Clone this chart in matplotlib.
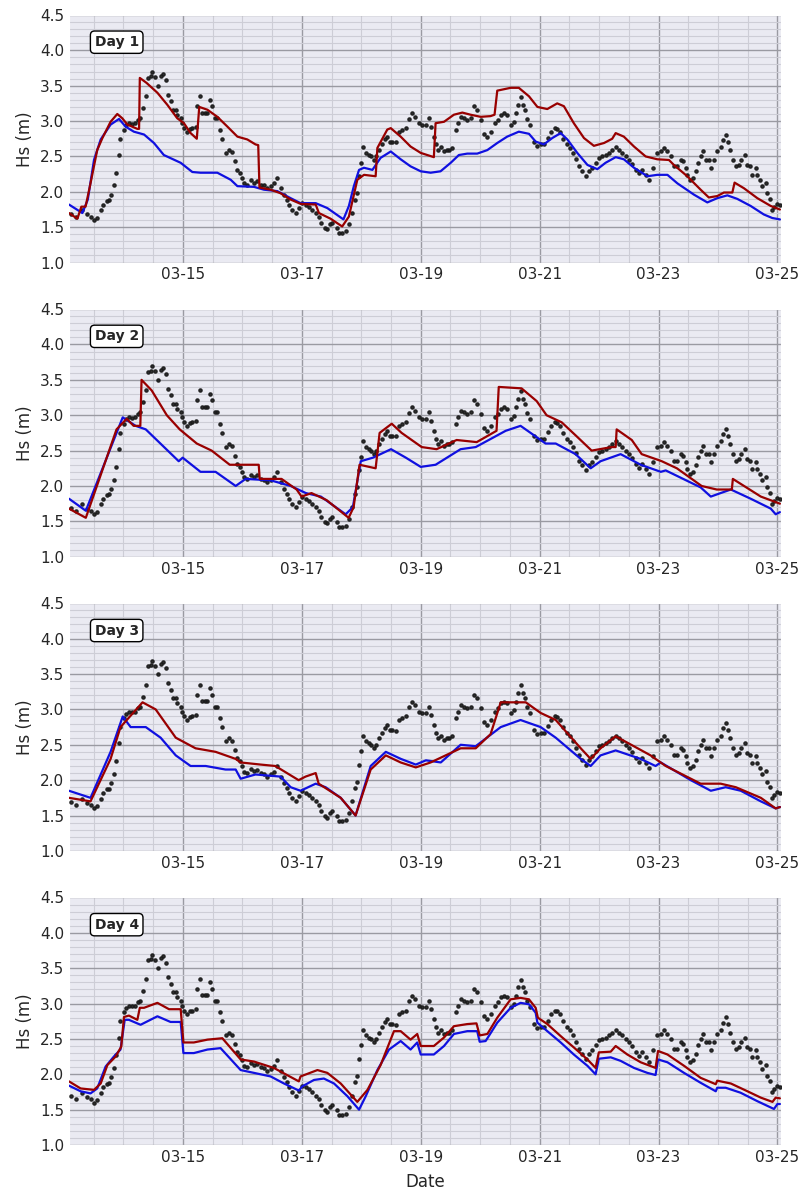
import matplotlib
matplotlib.use("Agg")
import matplotlib.pyplot as plt
import matplotlib.dates as mdates
import numpy as np
import pandas as pd
import seaborn as sns

# hours since 2023-03-13 00:00 and significant wave height (m)
obs = [
    (2.7, 1.69), (4.7, 1.65), (7.4, 1.74), (9.4, 1.68), (10.7, 1.65), (12.1, 1.60), (13.2, 1.63),
    (14.8, 1.74), (15.9, 1.82), (17.2, 1.87), (18.1, 1.88), (19.1, 1.96), (20.1, 2.09), (20.8, 2.27),
    (22.2, 2.52), (22.8, 2.75), (24.2, 2.88), (25.2, 2.94), (26.2, 2.97), (27.6, 2.96), (28.5, 2.97),
    (29.8, 3.02), (30.6, 3.04), (31.8, 3.18), (32.9, 3.35), (33.9, 3.61), (35.0, 3.63), (35.6, 3.69),
    (36.7, 3.62), (37.9, 3.50), (39.0, 3.64), (40.1, 3.67), (41.0, 3.58), (41.9, 3.37), (43.0, 3.28),
    (44.0, 3.16), (45.1, 3.16), (45.7, 3.09), (47.1, 3.04), (47.8, 2.97), (48.4, 2.90), (49.5, 2.85),
    (50.7, 2.89), (51.8, 2.90), (53.1, 2.92), (53.8, 3.21), (54.9, 3.35), (55.8, 3.12), (56.8, 3.12),
    (57.9, 3.12), (58.9, 3.30), (59.9, 3.21), (60.8, 3.04), (61.9, 3.04), (62.9, 2.88), (63.9, 2.75),
    (65.2, 2.55), (66.6, 2.59), (67.7, 2.56), (68.9, 2.43), (70.0, 2.31), (70.9, 2.27), (72.0, 2.20),
    (72.6, 2.12), (74.0, 2.10), (75.3, 2.16), (76.7, 2.13), (78.0, 2.15), (79.4, 2.10), (80.7, 2.09),
    (82.1, 2.05), (83.4, 2.08), (84.7, 2.12), (85.8, 2.20), (87.7, 2.05), (88.8, 1.96), (89.9, 1.89),
    (90.8, 1.82), (92.2, 1.75), (93.5, 1.70), (94.8, 1.77), (96.2, 1.84), (97.5, 1.82), (98.9, 1.79),
    (100.2, 1.75), (101.6, 1.70), (102.9, 1.65), (103.9, 1.56), (105.2, 1.49), (106.3, 1.47),
    (107.3, 1.54), (108.3, 1.56), (110.0, 1.49), (111.0, 1.42), (112.3, 1.42), (113.7, 1.44),
    (115.0, 1.54), (116.4, 1.70), (117.3, 1.89), (118.1, 1.98), (119.1, 2.22), (120.0, 2.41),
    (120.8, 2.63), (121.8, 2.55), (123.1, 2.52), (124.1, 2.50), (125.1, 2.45), (126.1, 2.50),
    (127.1, 2.59), (128.5, 2.67), (129.4, 2.74), (130.5, 2.78), (131.6, 2.71), (132.5, 2.71),
    (133.9, 2.70), (135.2, 2.85), (136.6, 2.88), (137.9, 2.90), (139.2, 3.03), (140.6, 3.11),
    (141.5, 3.06), (143.3, 2.97), (144.6, 2.95), (146.0, 2.95), (147.3, 3.04), (148.2, 2.92),
    (149.3, 2.78), (150.0, 2.67), (150.9, 2.59), (152.3, 2.63), (153.4, 2.57), (154.7, 2.59),
    (155.6, 2.59), (156.8, 2.62), (158.1, 2.88), (159.0, 2.97), (160.4, 3.06), (161.5, 3.04),
    (162.8, 3.02), (164.1, 3.04), (165.5, 3.21), (166.8, 3.16), (168.2, 3.02), (169.5, 2.82),
    (170.9, 2.78), (172.2, 2.85), (173.8, 2.97), (175.2, 3.02), (176.5, 3.09), (177.6, 3.11),
    (179.0, 3.09), (180.3, 2.95), (181.6, 2.99), (182.3, 3.11), (183.2, 3.23), (184.3, 3.34),
    (185.4, 3.23), (186.0, 3.16), (187.0, 3.03), (188.1, 2.95), (189.7, 2.71), (191.1, 2.65),
    (192.4, 2.67), (193.7, 2.67), (195.4, 2.76), (196.7, 2.85), (198.1, 2.90), (199.1, 2.89),
    (200.2, 2.85), (201.6, 2.75), (202.9, 2.67), (204.2, 2.62), (205.6, 2.55), (206.5, 2.46),
    (207.9, 2.36), (209.2, 2.29), (210.6, 2.22), (211.9, 2.29), (213.3, 2.34), (214.6, 2.41),
    (215.9, 2.48), (217.3, 2.50), (218.6, 2.52), (220.0, 2.55), (221.3, 2.59), (222.7, 2.63),
    (224.0, 2.59), (225.4, 2.55), (226.7, 2.50), (228.1, 2.45), (229.4, 2.40), (230.8, 2.31),
    (232.1, 2.26), (233.5, 2.31), (234.8, 2.24), (236.1, 2.17), (237.9, 2.34), (239.5, 2.55),
    (240.9, 2.57), (242.2, 2.62), (243.3, 2.57), (244.9, 2.50), (246.2, 2.36), (247.6, 2.36),
    (248.9, 2.45), (250.0, 2.43), (250.9, 2.34), (251.6, 2.24), (252.9, 2.17), (254.0, 2.20),
    (255.0, 2.29), (255.9, 2.41), (257.0, 2.50), (258.1, 2.57), (259.0, 2.45), (260.3, 2.45),
    (261.0, 2.34), (262.4, 2.45), (263.7, 2.57), (265.1, 2.63), (266.2, 2.73), (267.2, 2.81),
    (268.0, 2.71), (268.8, 2.59), (270.2, 2.45), (271.1, 2.36), (272.5, 2.38), (273.4, 2.45),
    (274.8, 2.52), (275.9, 2.38), (276.9, 2.36), (277.9, 2.24), (279.2, 2.34), (279.9, 2.24),
    (280.9, 2.17), (281.9, 2.08), (283.2, 2.13), (283.9, 1.98), (284.8, 1.90), (285.9, 1.75),
    (286.8, 1.79), (287.9, 1.83), (288.9, 1.82),
]

day1_blue = [
    (2.0, 1.82), (7.4, 1.70), (9.6, 1.89), (12.1, 2.45), (14.8, 2.74), (18.8, 2.95), (22.2, 3.03),
    (24.9, 2.92), (28.2, 2.85), (32.3, 2.81), (36.3, 2.69), (40.3, 2.52), (47.1, 2.41), (51.8, 2.28),
    (55.1, 2.27), (61.9, 2.27), (67.3, 2.17), (70.0, 2.08), (76.7, 2.07), (80.7, 2.03), (86.1, 2.01),
    (91.5, 1.91), (95.5, 1.84), (101.6, 1.84), (106.3, 1.77), (112.8, 1.61), (115.0, 1.80),
    (117.0, 2.08), (119.1, 2.31), (121.1, 2.34), (124.5, 2.31), (127.8, 2.48), (131.9, 2.57),
    (135.9, 2.46), (139.9, 2.36), (144.0, 2.29), (148.0, 2.27), (152.0, 2.29), (156.1, 2.41),
    (159.4, 2.52), (162.8, 2.54), (166.8, 2.54), (170.9, 2.59), (174.9, 2.69), (178.9, 2.78),
    (183.6, 2.85), (187.7, 2.82), (190.4, 2.71), (193.7, 2.67), (197.1, 2.76), (200.5, 2.83),
    (203.2, 2.74), (207.2, 2.55), (211.3, 2.38), (215.3, 2.32), (218.6, 2.41), (222.7, 2.49),
    (226.0, 2.46), (230.1, 2.34), (235.5, 2.22), (239.5, 2.24), (243.6, 2.24), (247.6, 2.12),
    (254.3, 1.96), (259.7, 1.85), (263.7, 1.91), (267.8, 1.95), (271.8, 1.90), (277.2, 1.80),
    (282.5, 1.68), (285.9, 1.63), (289.0, 1.61),
]
day1_red = [
    (2.0, 1.70), (5.4, 1.62), (7.0, 1.79), (8.7, 1.79), (10.7, 2.12), (13.4, 2.59), (15.5, 2.76),
    (18.8, 2.99), (21.5, 3.10), (23.5, 3.04), (25.6, 2.95), (29.6, 2.89), (30.3, 2.89), (30.6, 3.61),
    (33.3, 3.54), (37.7, 3.40), (41.7, 3.23), (45.7, 3.04), (48.4, 2.97), (51.1, 2.83), (53.6, 2.75),
    (54.6, 3.20), (57.9, 3.16), (61.9, 3.06), (66.0, 2.92), (70.0, 2.78), (74.0, 2.74), (77.3, 2.67),
    (78.4, 2.66), (78.9, 2.06), (83.4, 2.03), (87.4, 1.98), (91.5, 1.89), (95.5, 1.83), (101.6, 1.82),
    (102.9, 1.70), (107.6, 1.62), (112.3, 1.51), (115.0, 1.65), (118.4, 2.17), (121.1, 2.24),
    (125.8, 2.22), (126.5, 2.62), (130.5, 2.88), (131.9, 2.90), (135.9, 2.78), (139.9, 2.64),
    (144.0, 2.55), (149.3, 2.49), (150.0, 2.97), (153.4, 2.99), (157.4, 3.09), (160.8, 3.12),
    (164.1, 3.09), (168.2, 3.06), (172.2, 3.07), (173.8, 3.09), (174.9, 3.43), (180.3, 3.47),
    (183.6, 3.47), (187.7, 3.35), (191.1, 3.20), (195.1, 3.17), (199.1, 3.25), (201.8, 3.21),
    (205.8, 2.97), (209.9, 2.76), (213.9, 2.65), (218.0, 2.69), (221.3, 2.75), (222.7, 2.83),
    (226.0, 2.78), (230.1, 2.64), (234.8, 2.50), (239.5, 2.46), (244.2, 2.45), (246.2, 2.38),
    (251.6, 2.22), (257.0, 2.03), (260.3, 1.92), (263.7, 1.94), (266.4, 1.99), (269.8, 1.99),
    (270.7, 2.13), (274.5, 2.05), (279.9, 1.91), (285.3, 1.80), (289.0, 1.75),
]

day2_blue = [
    (2.0, 1.82), (8.8, 1.65), (23.7, 2.97), (28.9, 2.85), (33.0, 2.80), (46.3, 2.35), (47.9, 2.40),
    (55.1, 2.20), (61.2, 2.20), (69.3, 2.00), (73.3, 2.10), (83.4, 2.08), (91.5, 2.00), (97.6, 1.90),
    (103.7, 1.85), (113.7, 1.60), (116.6, 1.70), (119.8, 2.35), (124.7, 2.40), (132.0, 2.52),
    (138.0, 2.40), (144.0, 2.27), (150.0, 2.30), (160.1, 2.52), (166.2, 2.55), (178.3, 2.78),
    (184.3, 2.85), (190.4, 2.70), (194.4, 2.60), (198.5, 2.60), (206.5, 2.45), (212.6, 2.25),
    (216.6, 2.35), (224.7, 2.45), (232.8, 2.30), (240.9, 2.20), (242.9, 2.22), (257.0, 1.98),
    (261.1, 1.85), (265.1, 1.90), (269.2, 1.95), (277.2, 1.82), (285.3, 1.68), (287.3, 1.60),
    (289.0, 1.63),
]
day2_red = [
    (2.0, 1.68), (8.8, 1.55), (21.2, 2.80), (25.3, 2.95), (28.1, 2.85), (30.8, 2.85), (31.3, 3.50),
    (35.4, 3.35), (41.5, 3.00), (46.7, 2.80), (53.6, 2.60), (59.6, 2.50), (66.9, 2.30), (78.6, 2.30),
    (79.0, 2.10), (87.8, 2.10), (93.9, 1.95), (95.9, 1.85), (99.9, 1.90), (106.0, 1.80),
    (114.9, 1.55), (116.9, 1.70), (119.3, 2.30), (125.8, 2.25), (127.4, 2.75), (132.3, 2.88),
    (136.3, 2.75), (144.4, 2.55), (150.4, 2.52), (158.5, 2.65), (166.6, 2.62), (174.6, 2.78),
    (175.5, 3.40), (184.7, 3.38), (190.8, 3.20), (194.8, 3.00), (200.9, 2.90), (207.0, 2.70),
    (213.0, 2.50), (221.1, 2.55), (222.7, 2.55), (223.1, 2.80), (229.2, 2.65), (233.2, 2.45),
    (241.3, 2.35), (247.4, 2.25), (257.4, 2.00), (263.5, 1.95), (269.6, 1.95), (270.0, 2.10),
    (281.3, 1.85), (289.0, 1.75),
]

day3_blue = [
    (2.0, 1.85), (10.7, 1.75), (18.8, 2.40), (23.7, 2.90), (26.9, 2.75), (33.0, 2.75), (39.0, 2.60),
    (45.1, 2.35), (51.1, 2.20), (57.2, 2.20), (65.2, 2.15), (69.3, 2.15), (71.3, 2.02), (77.3, 2.08),
    (87.4, 2.05), (91.5, 1.90), (95.5, 1.85), (101.6, 1.95), (105.6, 1.90), (111.7, 1.75),
    (117.7, 1.50), (123.8, 2.20), (129.9, 2.40), (136.0, 2.30), (142.0, 2.22), (146.1, 2.28),
    (152.1, 2.25), (160.1, 2.50), (166.2, 2.48), (176.3, 2.75), (184.3, 2.85), (192.4, 2.75),
    (198.5, 2.60), (208.6, 2.30), (212.6, 2.20), (216.6, 2.35), (222.7, 2.42), (232.8, 2.30),
    (238.8, 2.20), (240.9, 2.25), (253.0, 2.00), (261.1, 1.85), (267.1, 1.90), (273.2, 1.85),
    (281.3, 1.70), (287.3, 1.60), (289.0, 1.62),
]
day3_red = [
    (2.0, 1.75), (10.7, 1.70), (18.8, 2.30), (22.8, 2.75), (31.7, 3.10), (37.0, 3.00), (45.1, 2.60),
    (53.1, 2.45), (61.2, 2.40), (69.3, 2.30), (71.3, 2.25), (79.4, 2.22), (85.3, 2.20), (94.7, 2.00),
    (97.5, 2.05), (101.6, 2.10), (102.8, 1.95), (111.7, 1.75), (117.7, 1.50), (123.8, 2.15),
    (129.9, 2.35), (135.9, 2.25), (142.0, 2.18), (148.0, 2.25), (160.1, 2.45), (166.2, 2.45),
    (172.2, 2.65), (176.3, 3.10), (186.4, 3.10), (192.4, 2.95), (198.5, 2.85), (208.6, 2.45),
    (212.6, 2.30), (216.6, 2.45), (222.7, 2.62), (236.8, 2.35), (238.8, 2.30), (242.9, 2.20),
    (257.0, 1.95), (265.1, 1.95), (271.2, 1.90), (281.3, 1.75), (287.3, 1.60), (289.0, 1.62),
]

day4_blue = [
    (2.0, 1.84), (6.7, 1.76), (10.7, 1.73), (13.4, 1.80), (16.8, 2.11), (20.1, 2.25), (22.8, 2.35),
    (24.5, 2.77), (26.2, 2.77), (30.9, 2.70), (37.7, 2.82), (43.0, 2.74), (47.1, 2.74), (48.2, 2.30),
    (52.4, 2.30), (57.9, 2.35), (63.2, 2.37), (71.3, 2.06), (76.7, 2.02), (83.4, 1.97), (88.8, 1.87),
    (94.8, 1.77), (96.2, 1.83), (100.9, 1.92), (104.9, 1.94), (109.0, 1.87), (114.4, 1.69),
    (119.1, 1.50), (121.8, 1.69), (126.5, 2.06), (131.2, 2.35), (135.9, 2.47), (139.9, 2.35),
    (142.6, 2.45), (144.0, 2.28), (149.3, 2.28), (153.4, 2.40), (157.4, 2.57), (162.8, 2.61),
    (166.8, 2.61), (167.8, 2.46), (170.2, 2.47), (174.9, 2.73), (180.3, 2.94), (184.3, 3.01),
    (187.7, 2.99), (190.4, 2.87), (191.1, 2.73), (195.1, 2.61), (200.5, 2.45), (205.8, 2.28),
    (211.3, 2.12), (214.6, 2.00), (215.9, 2.22), (220.7, 2.24), (224.7, 2.19), (230.1, 2.09),
    (235.5, 2.02), (238.8, 1.99), (239.8, 2.21), (243.6, 2.17), (250.3, 2.02), (257.0, 1.88),
    (263.1, 1.76), (263.7, 1.81), (267.1, 1.81), (273.1, 1.74), (279.9, 1.62), (286.6, 1.51),
    (288.0, 1.58), (289.0, 1.58),
]
day4_red = [
    (2.0, 1.90), (6.7, 1.80), (12.1, 1.78), (14.8, 1.87), (17.5, 2.13), (20.8, 2.25), (23.1, 2.39),
    (24.2, 2.81), (26.2, 2.83), (29.6, 2.77), (30.6, 2.94), (32.3, 2.94), (37.7, 3.01), (42.4, 2.92),
    (47.1, 2.92), (48.2, 2.45), (52.4, 2.45), (57.9, 2.49), (63.9, 2.51), (71.3, 2.21), (76.7, 2.18),
    (84.7, 2.09), (94.8, 1.90), (95.5, 1.97), (102.3, 2.06), (106.3, 2.02), (111.7, 1.87),
    (118.4, 1.61), (122.5, 1.78), (127.8, 2.13), (133.2, 2.61), (135.9, 2.61), (139.9, 2.49),
    (142.6, 2.57), (144.0, 2.40), (149.3, 2.40), (153.4, 2.52), (157.4, 2.68), (162.8, 2.71),
    (166.5, 2.72), (167.8, 2.55), (170.9, 2.57), (174.9, 2.80), (180.3, 3.06), (184.3, 3.08),
    (187.7, 3.06), (190.4, 2.94), (191.3, 2.80), (195.1, 2.71), (200.5, 2.54), (205.8, 2.38),
    (211.3, 2.21), (214.6, 2.09), (215.9, 2.31), (220.7, 2.32), (222.7, 2.40), (227.4, 2.28),
    (232.8, 2.17), (238.8, 2.09), (239.8, 2.33), (243.6, 2.28), (250.3, 2.12), (257.0, 1.95),
    (263.1, 1.86), (263.7, 1.91), (269.2, 1.87), (275.9, 1.76), (281.3, 1.67), (286.0, 1.61),
    (287.3, 1.67), (289.0, 1.66),
]

panels = [("Day 1", day1_blue, day1_red), ("Day 2", day2_blue, day2_red),
          ("Day 3", day3_blue, day3_red), ("Day 4", day4_blue, day4_red)]

start = pd.Timestamp("2023-03-13")


def to_time(pairs):
    a = np.array(pairs)
    return start + pd.to_timedelta(a[:, 0], unit="h"), a[:, 1]


sns.set_style("darkgrid")
plt.rcParams["font.family"] = ["DejaVu Sans"]

fig, axes = plt.subplots(4, 1, figsize=(8.02, 11.96), dpi=100)
fig.subplots_adjust(left=0.086, right=0.974, top=0.9875, bottom=0.0426, hspace=0.188)

obs_t, obs_v = to_time(obs)
x0 = start + pd.Timedelta(hours=2)
x1 = start + pd.Timedelta(hours=289.5)

for ax, (label, blue, red) in zip(axes, panels):
    bt, bv = to_time(blue)
    rt, rv = to_time(red)
    ax.plot(obs_t, obs_v, "o", color="#1a1a1a", markersize=2.3, alpha=0.9, zorder=3)
    ax.plot(bt, bv, color="#1010e0", lw=1.6, zorder=4)
    ax.plot(rt, rv, color="#990000", lw=1.6, zorder=5)

    ax.set_xlim(x0, x1)
    ax.set_ylim(1.0, 4.5)
    ax.set_yticks(np.arange(1.0, 4.51, 0.5))
    ax.set_yticks(np.arange(1.0, 4.51, 0.1), minor=True)
    ax.xaxis.set_major_locator(mdates.DayLocator(bymonthday=[15, 17, 19, 21, 23, 25]))
    ax.xaxis.set_minor_locator(mdates.HourLocator(byhour=[0, 12]))
    ax.xaxis.set_major_formatter(mdates.DateFormatter("%m-%d"))
    ax.grid(which="major", color="#9a9aa2", lw=1.0)
    ax.grid(which="minor", color="#cdcdd6", lw=0.8)
    ax.tick_params(which="both", length=0, labelsize=11, colors="#262626")
    ax.set_ylabel("Hs (m)", fontsize=12, color="#262626")
    ax.text(0.067, 0.89, label, transform=ax.transAxes, fontsize=10, fontweight="bold",
            ha="center", va="center", zorder=6,
            bbox=dict(boxstyle="round,pad=0.3", fc="white", ec="black", lw=1.0))

axes[-1].set_xlabel("Date", fontsize=12, color="#262626", labelpad=6)

fig.savefig("out.png", dpi=100)
